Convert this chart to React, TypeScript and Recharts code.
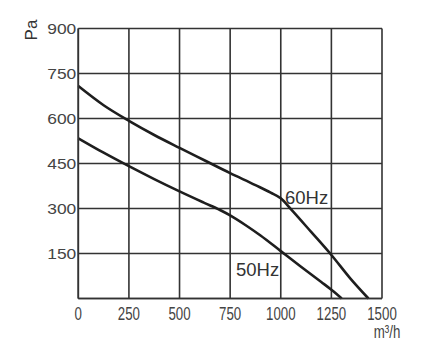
import { LineChart, Line, XAxis, YAxis, CartesianGrid } from "recharts";

const flow60 = [0, 125, 250, 375, 500, 625, 750, 875, 950, 1000, 1050, 1150, 1250, 1342, 1433];
const pres60 = [708, 644, 592, 545, 502, 460, 418, 378, 353, 334, 298, 222, 145, 68, 0];
const flow50 = [0, 125, 250, 375, 500, 625, 700, 750, 825, 900, 1000, 1100, 1200, 1250, 1301];
const pres50 = [534, 486, 441, 398, 357, 318, 295, 277, 245, 210, 158, 106, 55, 29, 0];
const xTicks = [0, 250, 500, 750, 1000, 1250, 1500];
const yTicks = [0, 150, 300, 450, 600, 750, 900];

const data60 = flow60.map((q, i) => ({ q, p: pres60[i] }));
const data50 = flow50.map((q, i) => ({ q, p: pres50[i] }));

const FONT = "'Liberation Sans', Arial, sans-serif";
const INK = "#333";

const XTick = ({ x, y, payload }: any) => (
  <g transform={`translate(${x},${y + 13}) scale(0.7,1)`}>
    <text textAnchor="middle" fontSize={19} fontFamily={FONT} fill="#444">
      {payload.value}
    </text>
  </g>
);

const YTick = ({ x, y, payload }: any) =>
  payload.value === 0 ? null : (
    <g transform={`translate(${x},${y + 5}) scale(1.2,1)`}>
      <text textAnchor="end" fontSize={14.5} fontFamily={FONT} fill="#444">
        {payload.value}
      </text>
    </g>
  );

export default function App() {
  return (
    <div style={{ position: "absolute", left: 0, top: 0, width: 432, height: 360, background: "#fff" }}>
      <LineChart width={432} height={360} margin={{ top: 28.5, right: 50, bottom: 31.5, left: 38.3 }}>
        <CartesianGrid stroke={INK} strokeWidth={1.6} vertical horizontal
          verticalValues={xTicks} horizontalValues={yTicks} />
        <XAxis type="number" dataKey="q" domain={[0, 1500]} ticks={xTicks} height={30}
          axisLine={{ stroke: INK, strokeWidth: 1.6 }} tickLine={false} tick={<XTick />} />
        <YAxis type="number" dataKey="p" domain={[0, 900]} ticks={yTicks} width={40}
          axisLine={{ stroke: INK, strokeWidth: 1.6 }} tickLine={false} tickSize={0} tickMargin={2}
          tick={<YTick />} />
        <Line data={data60} dataKey="p" type="monotone" stroke="#1e1e1e" strokeWidth={2.6}
          dot={false} isAnimationActive={false} />
        <Line data={data50} dataKey="p" type="monotone" stroke="#1e1e1e" strokeWidth={2.6}
          dot={false} isAnimationActive={false} />
        <text x={285} y={204} fontSize={18.5} fontFamily={FONT} fill={INK}>60Hz</text>
        <text x={236} y={276} fontSize={18.5} fontFamily={FONT} fill={INK}>50Hz</text>
        <g transform="translate(37,30) rotate(-90)">
          <text textAnchor="middle" fontSize={17} fontFamily={FONT} fill={INK}>Pa</text>
        </g>
        <g transform="translate(387,338) scale(0.7,1)">
          <text textAnchor="middle" fontSize={19} fontFamily={FONT} fill="#444">m³/h</text>
        </g>
      </LineChart>
    </div>
  );
}
